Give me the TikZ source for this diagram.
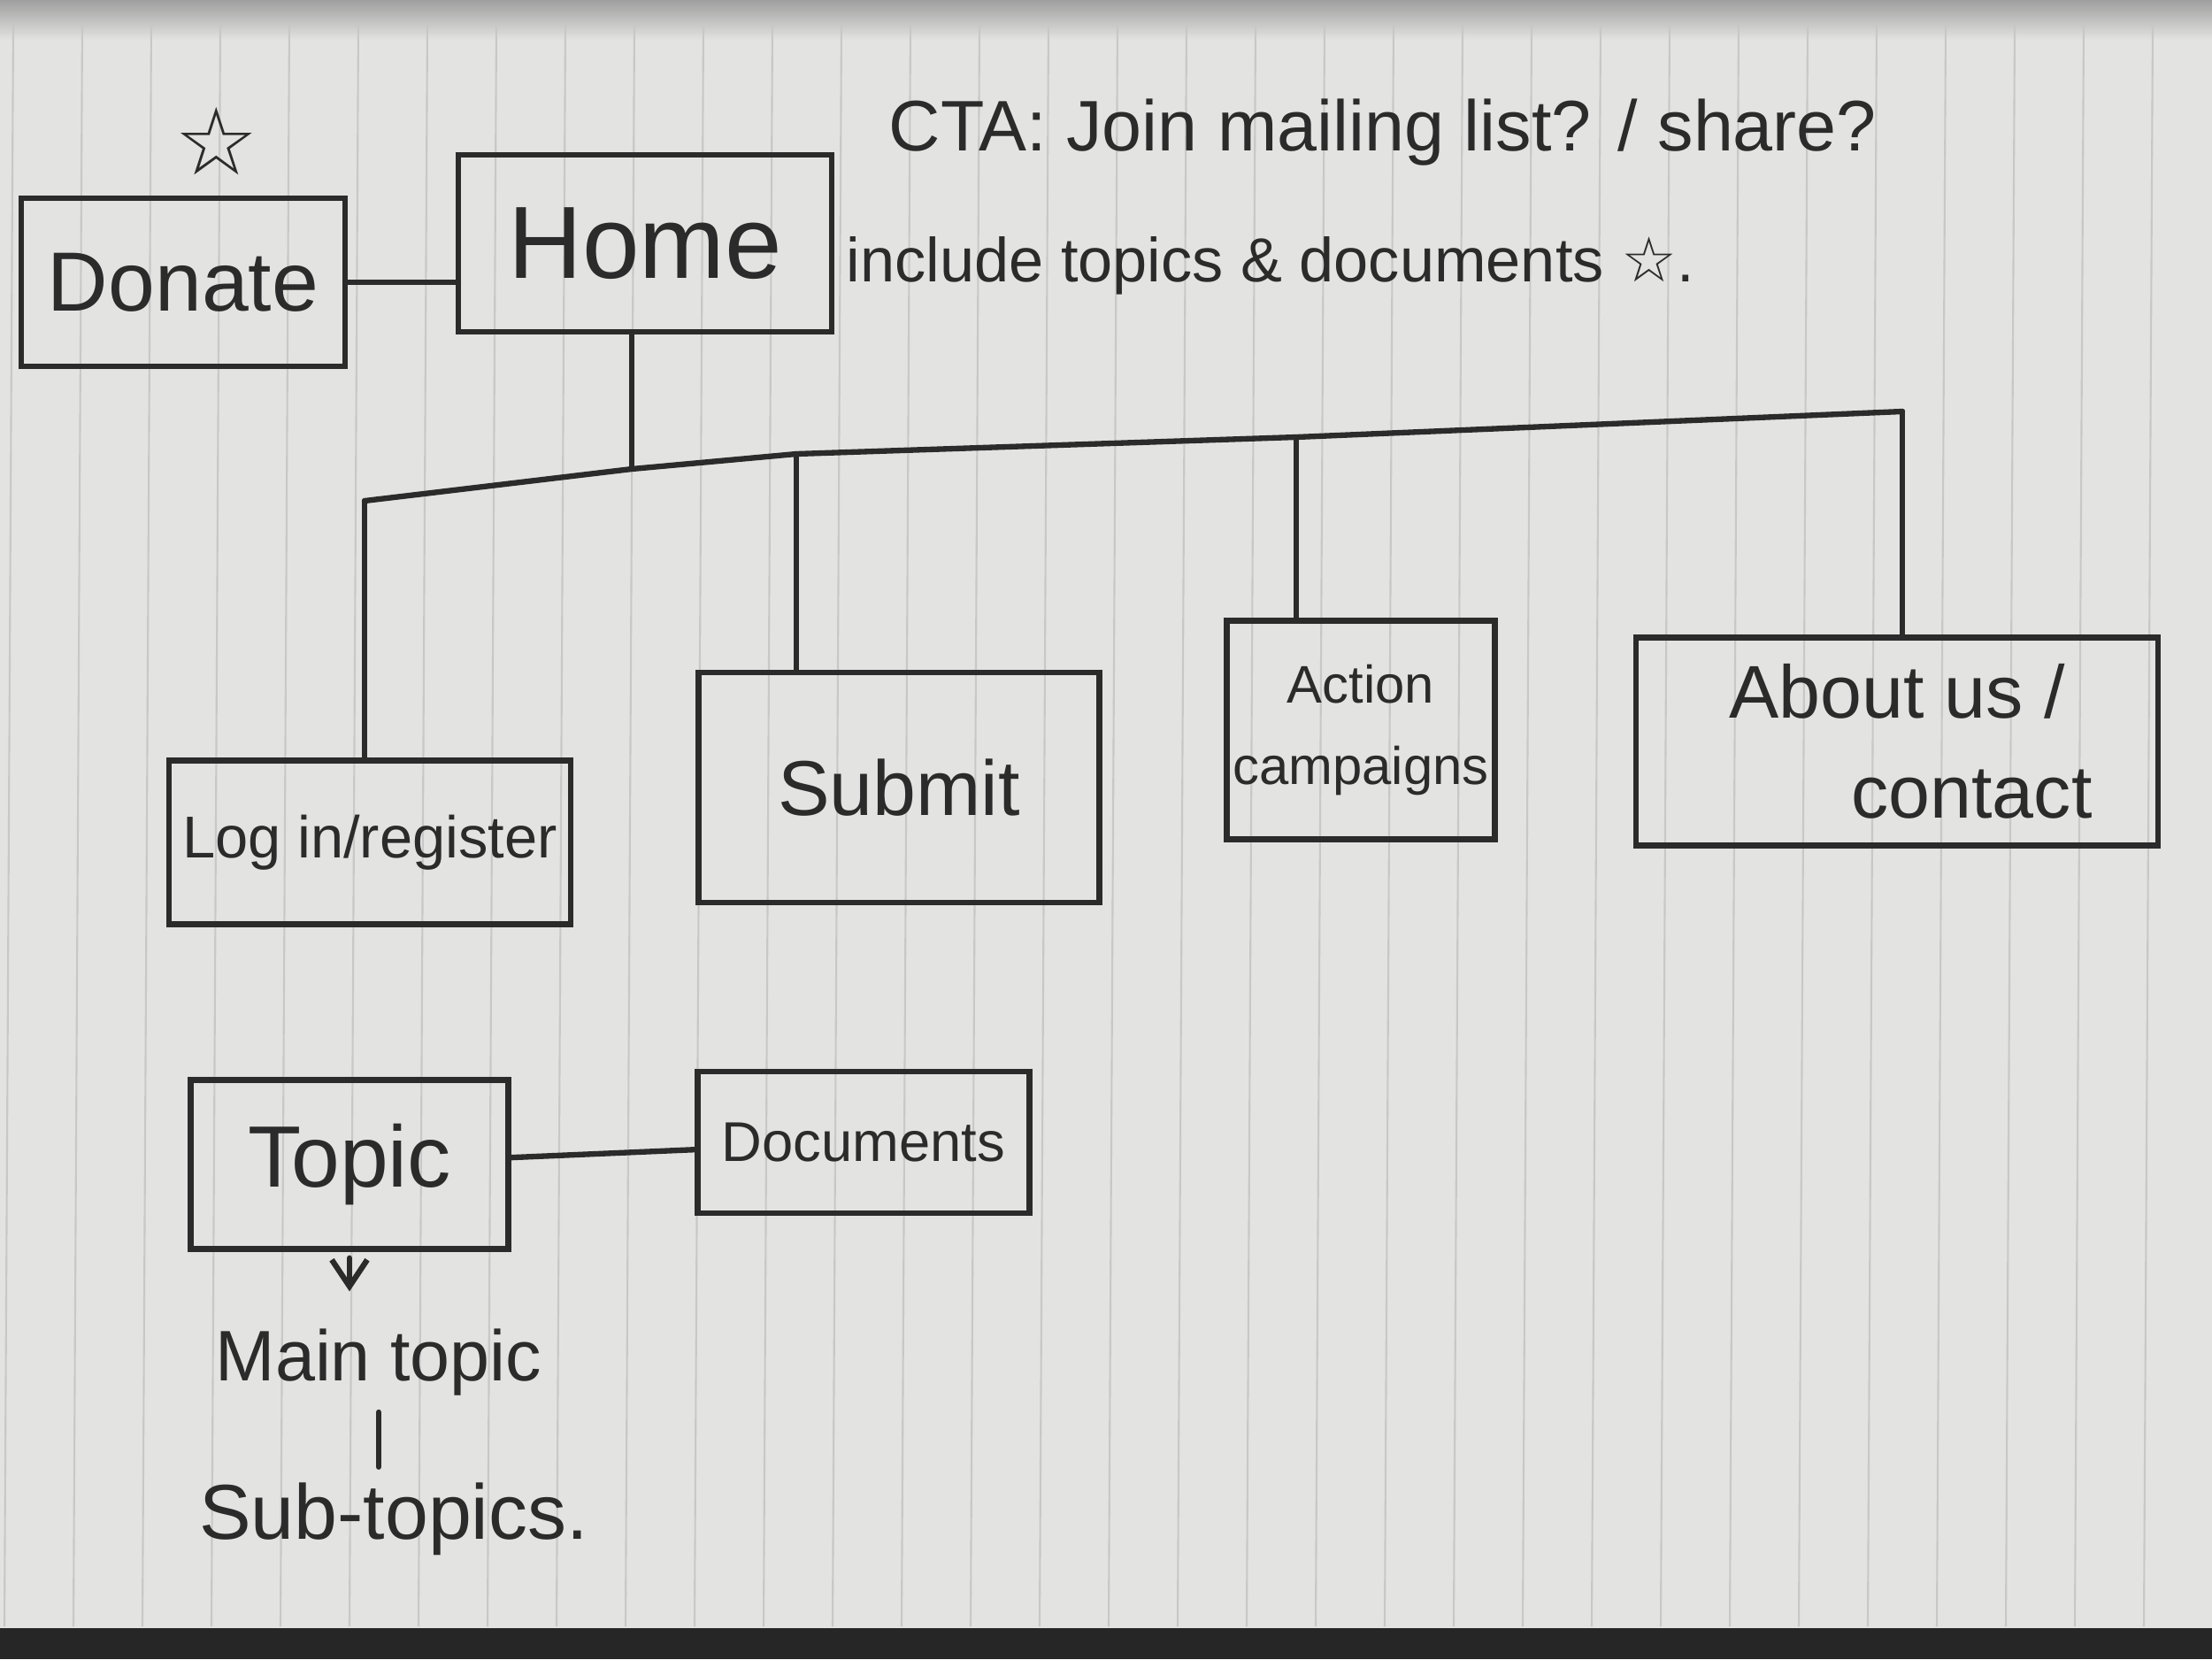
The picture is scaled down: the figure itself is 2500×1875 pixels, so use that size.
\documentclass[tikz,border=0pt]{standalone}
\usepackage{fontspec}
\setmainfont{Liberation Sans}
\newfontfamily\starfont{DejaVu Sans}
\usetikzlibrary{arrows.meta,positioning}
\definecolor{ink}{HTML}{2B2B2B}
\definecolor{paper}{HTML}{E3E3E1}
\definecolor{ruling}{HTML}{C8C8C6}
\tikzset{
  page/.style={draw=ink, line width=1.8pt, align=center, inner sep=0pt, text=ink},
  note/.style={text=ink, align=left, inner sep=0pt},
  link/.style={draw=ink, line width=1.8pt, line cap=round},
  linkarrow/.style={link, -{Straight Barb[length=3mm, width=4mm]}}
}

\begin{document}
\begin{tikzpicture}[x=0.01cm,y=-0.01cm]
  \useasboundingbox (0,0) rectangle (2500,1875);
  % notebook paper
  \fill[paper] (0,0) rectangle (2500,1875);
  \shade[top color=gray!75, bottom color=paper] (0,0) rectangle (2500,45);
  \foreach \i in {0,...,31}
    \draw[ruling, line width=0.6pt] (\i*78+15,25) -- (\i*78+5,1838);
  \fill[black!85] (0,1840) rectangle (2500,1875);

  % top row
  \node[page, minimum width=3.66cm, minimum height=1.9cm, font=\fontsize{27}{30}\selectfont] (donate) at (207,319) {Donate};
  \node[text=ink, font=\starfont\fontsize{30}{32}\selectfont] (donatestar) at (245,160) {☆};
  \node[page, minimum width=4.22cm, minimum height=2.0cm, font=\fontsize{33}{36}\selectfont] (home) at (729,275) {Home};
  \node[note, anchor=west, font=\fontsize{23}{26}\selectfont] (cta) at (1004,150) {CTA: Join mailing list? / share?};
  \node[note, anchor=west, font=\fontsize{20}{24}\selectfont] (include) at (956,300) {include topics \& documents {\starfont ☆}.};

  % second level
  \node[page, minimum width=4.54cm, minimum height=1.85cm, font=\fontsize{19}{22}\selectfont] (login) at (418,952) {Log in/register};
  \node[page, minimum width=4.53cm, minimum height=2.6cm, font=\fontsize{25}{28}\selectfont] (submit) at (1016,890) {Submit};
  \node[page, minimum width=3.03cm, minimum height=2.47cm, font=\fontsize{17}{26}\selectfont] (action) at (1538,825) {Action\\campaigns};
  \node[page, minimum width=5.9cm, minimum height=2.35cm, font=\fontsize{24}{32}\selectfont] (about) at (2144,838) {About us /\\\hspace*{2em}contact};

  % topic pages
  \node[page, minimum width=3.59cm, minimum height=1.91cm, font=\fontsize{28}{30}\selectfont] (topic) at (395,1316) {Topic};
  \node[page, minimum width=3.75cm, minimum height=1.6cm, font=\fontsize{18}{20}\selectfont] (docs) at (976,1291) {Documents};
  \node[note, font=\fontsize{23}{26}\selectfont] (maintopic) at (428,1540) {Main topic};
  \node[note, font=\fontsize{25}{28}\selectfont] (subtopics) at (445,1717) {Sub-topics.};

  \coordinate (busL) at (412,566);
  \coordinate (hub) at (714,530);
  \coordinate (busS) at (900,513);
  \coordinate (busA) at (1465,494);
  \coordinate (busR) at (2150,465);

  \draw[link] (donate.east) -- (donate.east -| home.west);
  \draw[link] (home.south -| hub) -- (hub);
  \draw[link] (busL) -- (hub) -- (busS) -- (busA) -- (busR);
  \draw[link] (busL) -- (busL |- login.north);
  \draw[link] (busS) -- (busS |- submit.north);
  \draw[link] (busA) -- (busA |- action.north);
  \draw[link] (busR) -- (busR |- about.north);
  \draw[link] (topic) -- (docs);
  \draw[linkarrow, shorten <=2pt, shorten >=12pt] (topic.south) -- (topic.south |- maintopic.north);
  \draw[link, shorten <=5pt, shorten >=5pt] (maintopic.south) -- (maintopic.south |- subtopics.north);
\end{tikzpicture}
\end{document}
